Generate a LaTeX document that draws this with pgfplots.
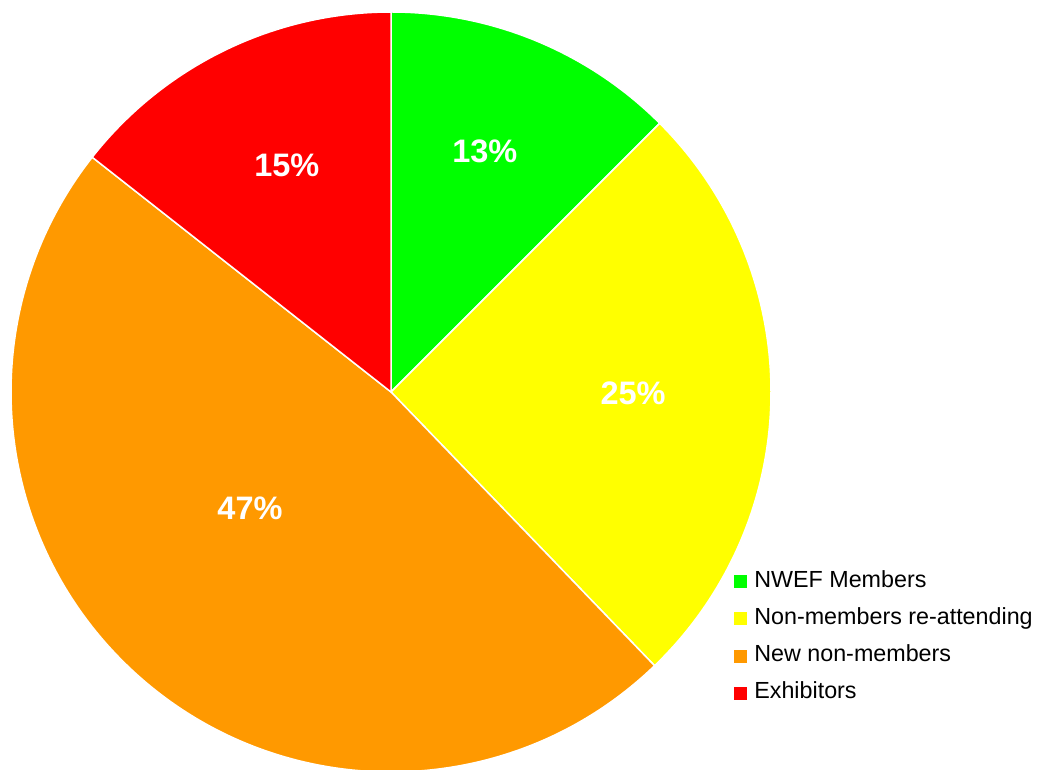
\documentclass[border=0pt]{standalone}
\usepackage{pgfplots}
\pgfplotsset{compat=1.18}
\usepackage{fontspec}
\setmainfont{Liberation Sans}
\definecolor{nwefgreen}{HTML}{00FF00}
\definecolor{nwefyellow}{HTML}{FFFF00}
\definecolor{nweforange}{HTML}{FF9900}
\definecolor{nwefred}{HTML}{FF0000}
\tikzset{pielabel/.style={text=white, font=\bfseries\fontsize{32.5}{38}\selectfont}}
% share (%), colour, shown label, label position (axis units)
\def\slices{12.5/nwefgreen/13/0.247/0.632, 25.3/nwefyellow/25/0.637/-0.003, 47.8/nweforange/47/-0.371/-0.305, 14.4/nwefred/15/-0.274/0.597}
\begin{document}
\begin{tikzpicture}
\path[use as bounding box] (0,0) rectangle (1037pt,770pt);
\begin{axis}[
  at={(11pt,-2pt)}, anchor=south west,
  scale only axis, width=760pt, height=760pt,
  xmin=-1, xmax=1, ymin=-1, ymax=1,
  hide axis, clip=false,
  legend style={
    at={(rel axis cs:0.947,0.268)}, anchor=north west,
    draw=none, fill=none,
    font=\fontsize{23.3}{28}\selectfont,
    nodes={text height=16.5pt, text depth=5pt, inner sep=0pt},
    row sep=15.8pt,
    /tikz/every odd column/.append style={column sep=8pt},
  },
  legend cell align=left,
]
\addlegendimage{legend image code/.code={\fill[nwefgreen] (0pt,-6pt) rectangle (12pt,6pt);}}
\addlegendentry{NWEF Members}
\addlegendimage{legend image code/.code={\fill[nwefyellow] (0pt,-6pt) rectangle (12pt,6pt);}}
\addlegendentry{Non-members re-attending}
\addlegendimage{legend image code/.code={\fill[nweforange] (0pt,-6pt) rectangle (12pt,6pt);}}
\addlegendentry{New non-members}
\addlegendimage{legend image code/.code={\fill[nwefred] (0pt,-6pt) rectangle (12pt,6pt);}}
\addlegendentry{Exhibitors}
\gdef\cum{90}
\foreach \v/\c/\l/\lx/\ly in \slices {
  \pgfmathsetmacro\a{\cum}
  \pgfmathsetmacro\b{\cum-3.6*\v}
  \edef\temp{\noexpand\filldraw[fill=\c, draw=white, line width=1.5pt, line join=round]
    (axis cs:0,0) -- (axis cs:{cos(\a)},{sin(\a)}) arc[start angle=\a, end angle=\b, radius=380pt] -- cycle;
    \noexpand\node[pielabel] at (axis cs:\lx,\ly) {\l\%};}
  \temp
  \global\let\cum\b
}
\end{axis}
\end{tikzpicture}
\end{document}
